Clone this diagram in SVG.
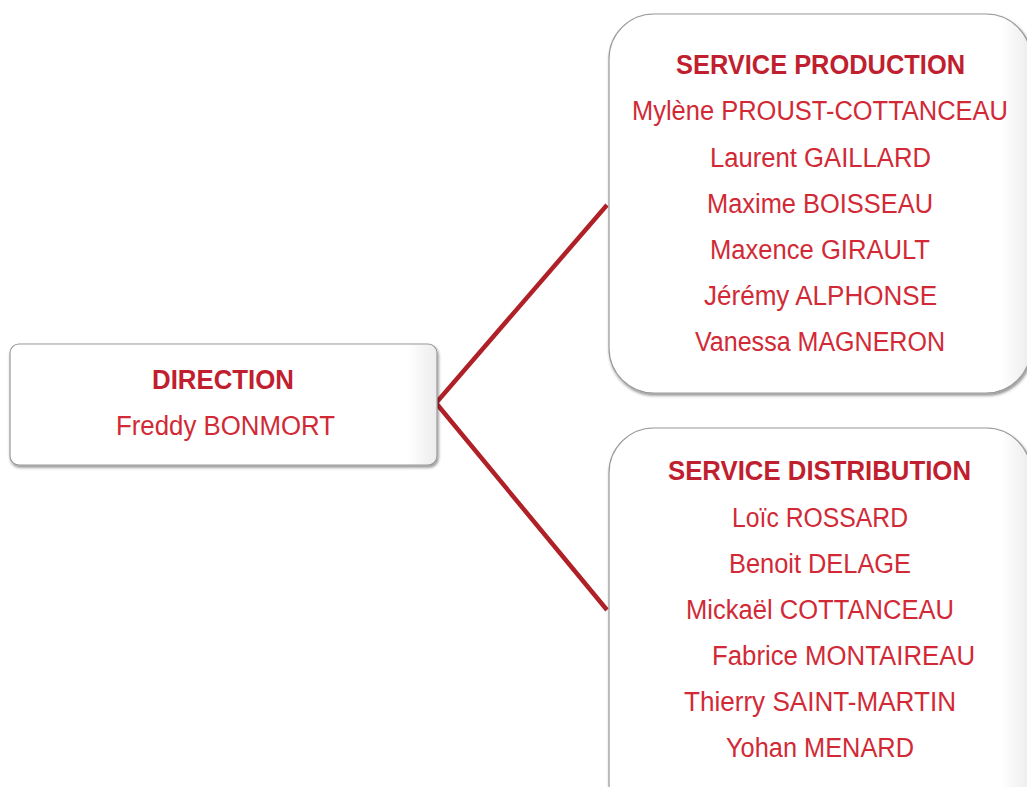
<svg xmlns="http://www.w3.org/2000/svg" width="1027" height="787" viewBox="0 0 1027 787">
<defs>
<filter id="sh" x="-10%" y="-10%" width="120%" height="120%">
<feDropShadow dx="1" dy="2" stdDeviation="1.5" flood-color="#000" flood-opacity="0.45"/>
</filter>
<linearGradient id="edge" x1="0" y1="0" x2="1" y2="0">
<stop offset="0" stop-color="#ffffff"/>
<stop offset="0.93" stop-color="#ffffff"/>
<stop offset="1" stop-color="#ececec"/>
</linearGradient>
</defs>
<style>
.box{fill:url(#edge);stroke:#9a9a9a;stroke-width:1.2;filter:url(#sh)}
.h{font-family:"Liberation Sans",Arial,sans-serif;font-weight:bold;font-size:27px;fill:#c01f2f}
.n{font-family:"Liberation Sans",Arial,sans-serif;font-size:27px;fill:#d12a36}
.c{fill:none;stroke:#b02127;stroke-width:4.5;stroke-linejoin:miter}
</style>
<rect width="1027" height="787" fill="#ffffff"/>
<g id="connectors">
<polyline class="c" points="607,205 436,403 607,610"/>
</g>
<g id="direction">
<rect class="box" x="10" y="344" width="427" height="121" rx="9"/>
<text class="h" x="152" y="389" textLength="142" lengthAdjust="spacingAndGlyphs">DIRECTION</text>
<text class="n" x="116" y="435" textLength="219" lengthAdjust="spacingAndGlyphs">Freddy BONMORT</text>
</g>
<g id="production">
<rect class="box" x="609" y="14" width="422" height="379" rx="45"/>
<text class="h" x="676" y="74" textLength="289" lengthAdjust="spacingAndGlyphs">SERVICE PRODUCTION</text>
<text class="n" x="632" y="120" textLength="376" lengthAdjust="spacingAndGlyphs">Mylène PROUST-COTTANCEAU</text>
<text class="n" x="710" y="167" textLength="221" lengthAdjust="spacingAndGlyphs">Laurent GAILLARD</text>
<text class="n" x="707" y="213" textLength="226" lengthAdjust="spacingAndGlyphs">Maxime BOISSEAU</text>
<text class="n" x="710" y="259" textLength="220" lengthAdjust="spacingAndGlyphs">Maxence GIRAULT</text>
<text class="n" x="704" y="305" textLength="233" lengthAdjust="spacingAndGlyphs">Jérémy ALPHONSE</text>
<text class="n" x="695" y="351" textLength="250" lengthAdjust="spacingAndGlyphs">Vanessa MAGNERON</text>
</g>
<g id="distribution">
<rect class="box" x="609" y="428" width="422" height="400" rx="45"/>
<text class="h" x="668" y="480" textLength="303" lengthAdjust="spacingAndGlyphs">SERVICE DISTRIBUTION</text>
<text class="n" x="732" y="527" textLength="176" lengthAdjust="spacingAndGlyphs">Loïc ROSSARD</text>
<text class="n" x="729" y="573" textLength="182" lengthAdjust="spacingAndGlyphs">Benoit DELAGE</text>
<text class="n" x="686" y="619" textLength="268" lengthAdjust="spacingAndGlyphs">Mickaël COTTANCEAU</text>
<text class="n" x="712" y="665" textLength="263" lengthAdjust="spacingAndGlyphs">Fabrice MONTAIREAU</text>
<text class="n" x="684" y="711" textLength="272" lengthAdjust="spacingAndGlyphs">Thierry SAINT-MARTIN</text>
<text class="n" x="726" y="757" textLength="188" lengthAdjust="spacingAndGlyphs">Yohan MENARD</text>
</g>
</svg>
